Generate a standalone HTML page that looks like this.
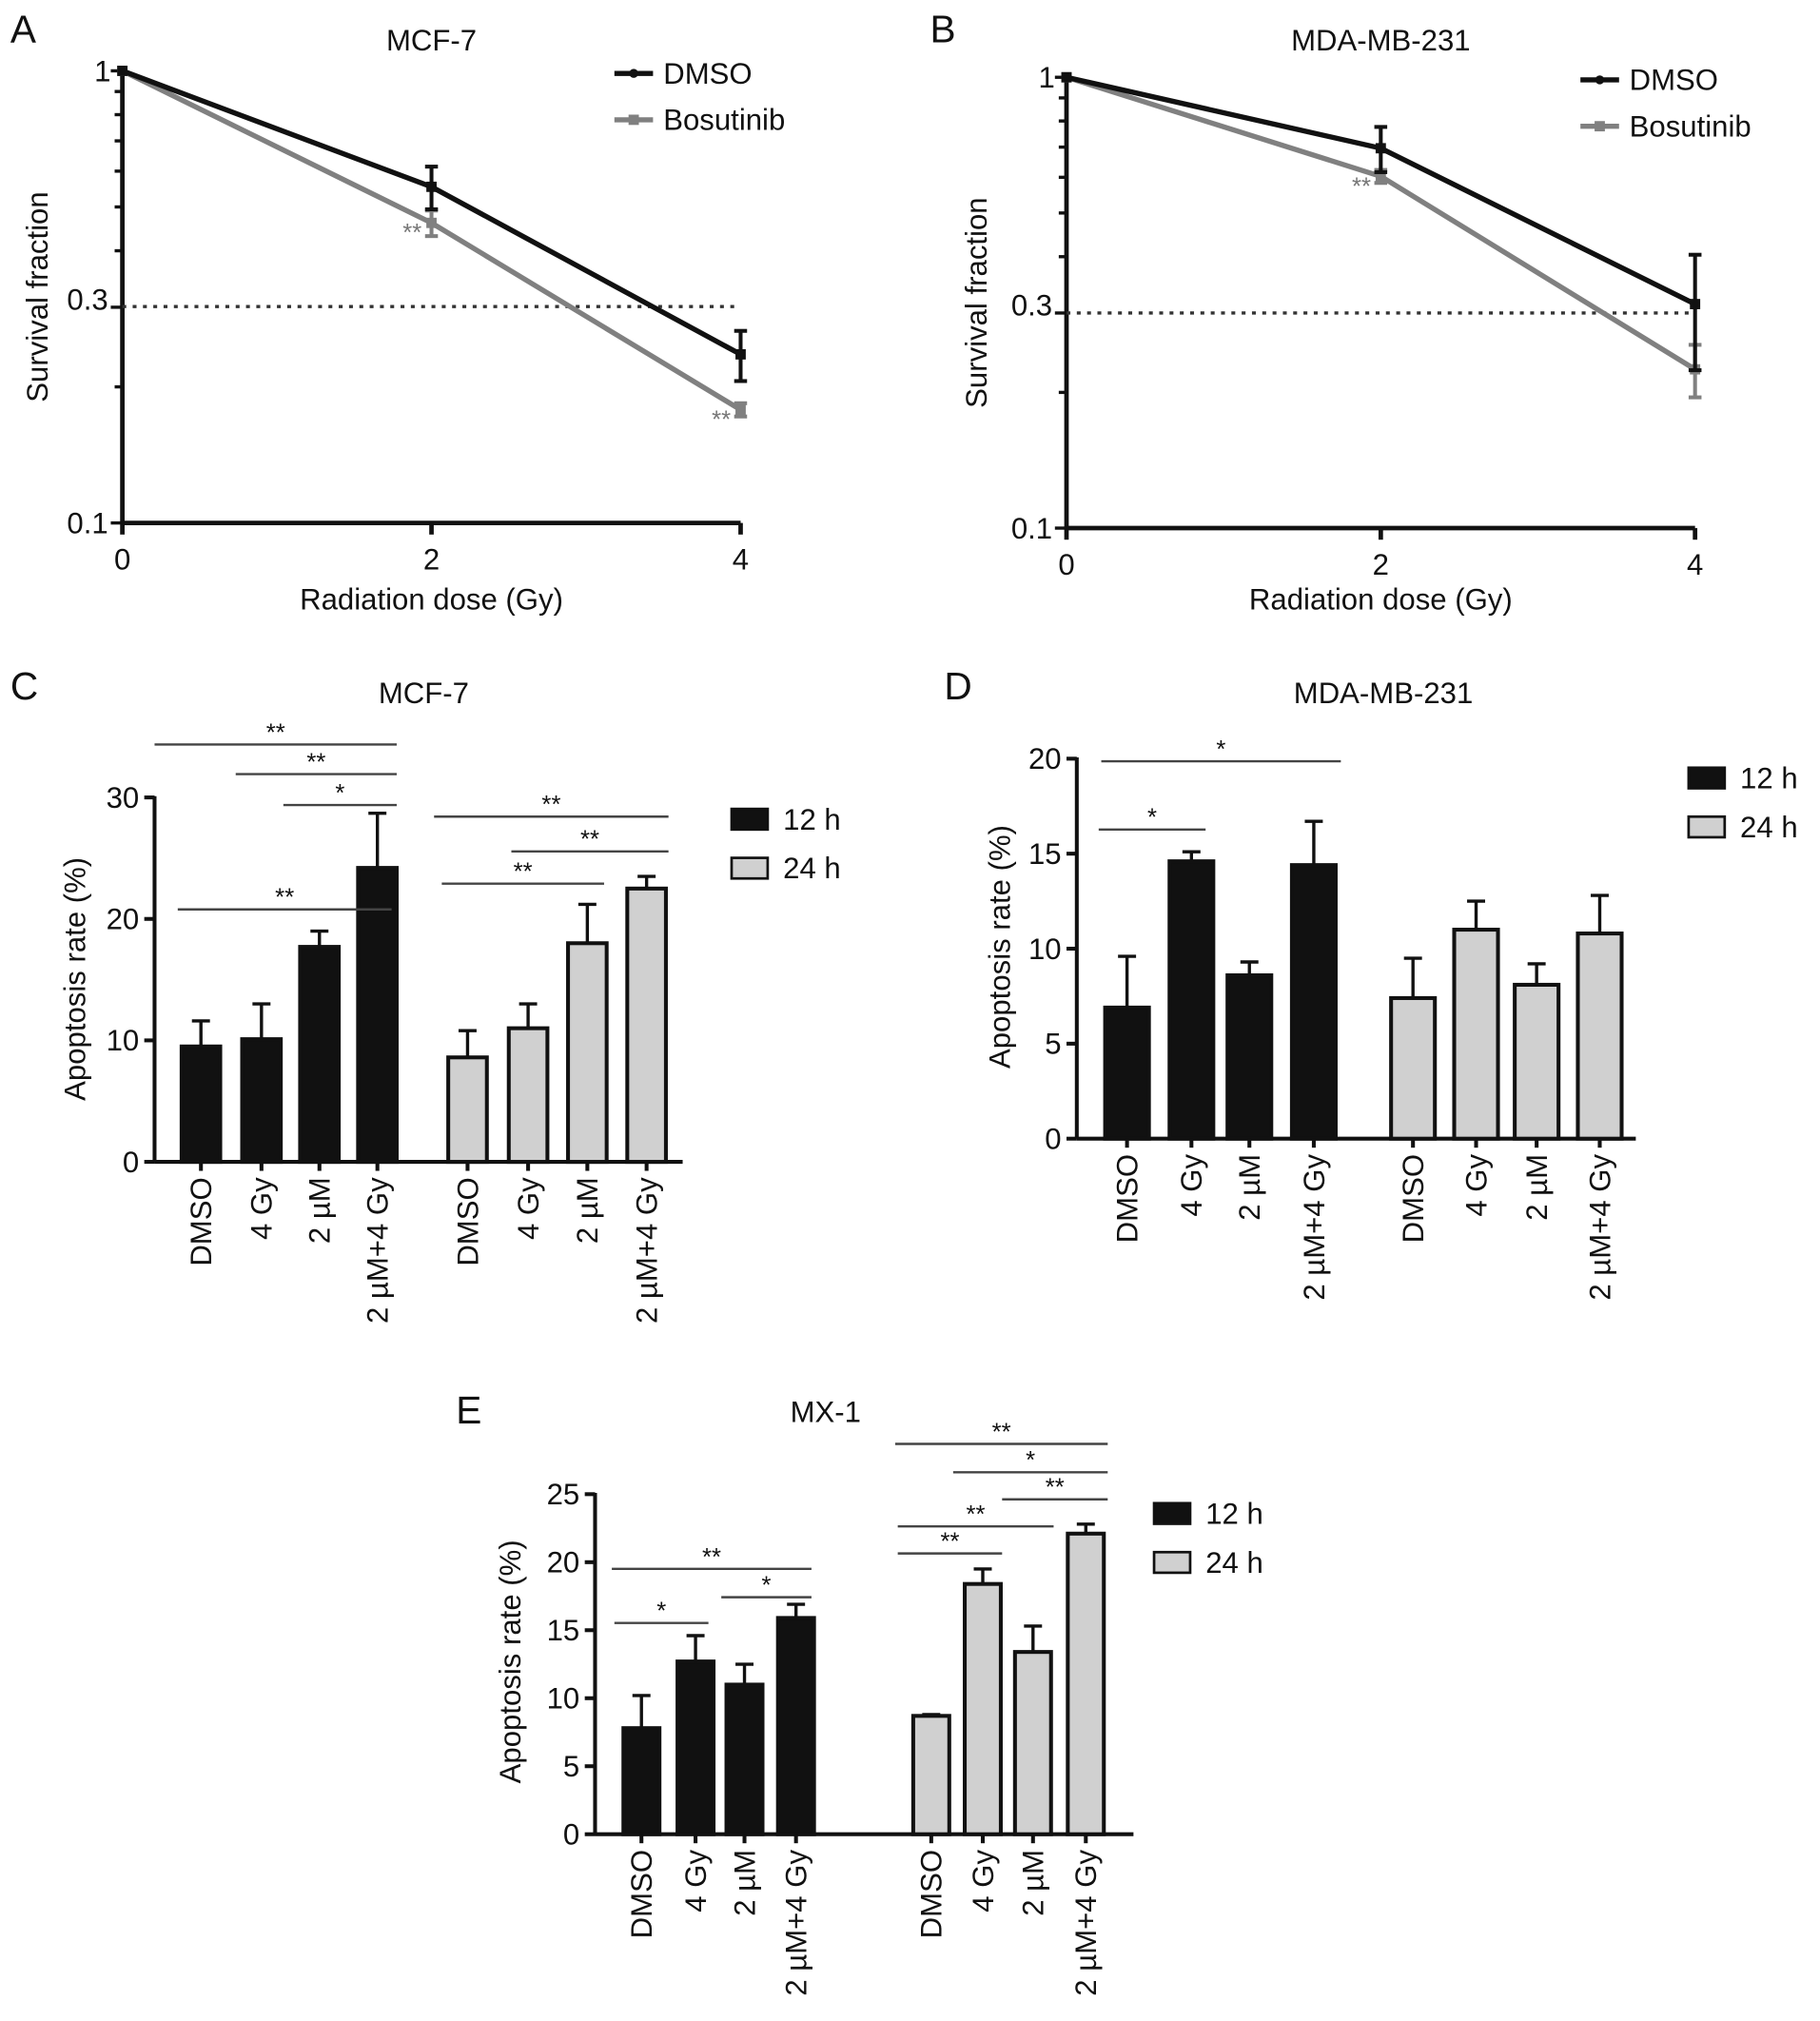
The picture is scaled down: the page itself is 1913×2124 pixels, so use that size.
<!DOCTYPE html>
<html><head><meta charset="utf-8"><style>
html,body{margin:0;padding:0;background:#fff;}
svg{display:block;font-family:"Liberation Sans",sans-serif;}
</style></head><body>
<svg id="fig" width="1913" height="2124" viewBox="0 0 1413 1569" preserveAspectRatio="none"></svg>
<script>
// ---- Data ----
const doses = [0, 2, 4];
const aDmso = [1, 0.554, 0.236];
const aDmsoErr = [0, 0.06, 0.03];
const aBos = [1, 0.461, 0.178];
const aBosErr = [0, 0.03, 0.006];
const bDmso = [1, 0.696, 0.314];
const bDmsoErr = [0, 0.08, 0.09];
const bBos = [1, 0.603, 0.225];
const bBosErr = [0, 0.02, 0.03];
const groups = ["DMSO", "4 Gy", "2 µM", "2 µM+4 Gy"];
const c12 = [9.5, 10.1, 17.7, 24.2];
const c12Err = [2.1, 2.9, 1.3, 4.5];
const c24 = [8.6, 11.0, 18.0, 22.5];
const c24Err = [2.2, 2.0, 3.2, 1.0];
const d12 = [6.9, 14.6, 8.6, 14.4];
const d12Err = [2.7, 0.5, 0.7, 2.3];
const d24 = [7.4, 11.0, 8.1, 10.8];
const d24Err = [2.1, 1.5, 1.1, 2.0];
const e12 = [7.8, 12.7, 11.0, 15.9];
const e12Err = [2.4, 1.9, 1.5, 1.0];
const e24 = [8.7, 18.4, 13.4, 22.1];
const e24Err = [0.1, 1.1, 1.9, 0.7];
const cTicks = [0, 10, 20, 30];
const dTicks = [0, 5, 10, 15, 20];
const eTicks = [0, 5, 10, 15, 20, 25];

const NS = "http://www.w3.org/2000/svg";
const svg = document.getElementById("fig");
function el(tag, attrs, parent, text) {
  const e = document.createElementNS(NS, tag);
  for (const k in attrs) e.setAttribute(k, attrs[k]);
  if (text !== undefined) e.textContent = text;
  (parent || svg).appendChild(e);
  return e;
}
function txt(x, y, s, size, anchor, name, extra) {
  const t = el("text", Object.assign({x: x, y: y, "font-size": size, "text-anchor": anchor || "middle", fill: "#111"}, extra || {}), svg, s);
  
  
  return t;
}
const FS = 23;

// ---- Survival panels ----
function survival(cfg) {
  const g = el("g", {});
  
  
  const xS = d => cfg.x0 + (cfg.x4 - cfg.x0) * d / 4;
  const yS = v => cfg.yTop + (cfg.yBot - cfg.yTop) * (-Math.log10(v));
  el("line", {x1: cfg.x0, y1: cfg.yTop - 2, x2: cfg.x0, y2: cfg.yBot, stroke: "#111", "stroke-width": 3.5}, g);
  el("line", {x1: cfg.x0, y1: cfg.yBot, x2: cfg.x4, y2: cfg.yBot, stroke: "#111", "stroke-width": 3.5}, g);
  doses.forEach(d => {
    el("line", {x1: xS(d), y1: cfg.yBot, x2: xS(d), y2: cfg.yBot + 9, stroke: "#111", "stroke-width": 3.5}, g);
    txt(xS(d), cfg.yBot + 36, String(d), FS, "middle", "x-tick-label");
  });
  for (let m = 1; m <= 10; m++) {
    const v = 0.1 * m;
    const major = (m === 1 || m === 10 || m === 3);
    el("line", {x1: cfg.x0 - (major ? 9 : 6), y1: yS(v), x2: cfg.x0, y2: yS(v), stroke: "#111", "stroke-width": 2.5}, g);
  }
  txt(cfg.x0 - 9, yS(1) + 8, "1", FS, "end", "y-tick-label");
  txt(cfg.x0 - 11, yS(0.3) + 2, "0.3", FS, "end", "y-tick-label");
  txt(cfg.x0 - 11, yS(0.1) + 8, "0.1", FS, "end", "y-tick-label");
  const dl = el("line", {x1: cfg.x0, y1: cfg.dotY, x2: cfg.x4, y2: cfg.dotY, stroke: "#333", "stroke-width": 2.5, "stroke-dasharray": "3,5"}, g);
  
  
  function series(vals, errs, color, nm, sigs) {
    const pts = doses.map((d, i) => xS(d) + "," + yS(vals[i])).join(" ");
    const p = el("polyline", {points: pts, fill: "none", stroke: color, "stroke-width": 4}, g);
    
    
    doses.forEach((d, i) => {
      if (errs[i] > 0) {
        const x = xS(d), y1 = yS(vals[i] + errs[i]), y2 = yS(vals[i] - errs[i]);
        el("line", {x1: x, y1: y1, x2: x, y2: y2, stroke: color, "stroke-width": 3}, g);
        el("line", {x1: x - 5, y1: y1, x2: x + 5, y2: y1, stroke: color, "stroke-width": 3}, g);
        el("line", {x1: x - 5, y1: y2, x2: x + 5, y2: y2, stroke: color, "stroke-width": 3}, g);
      }
      const m = el("rect", {x: xS(d) - 4, y: yS(vals[i]) - 4, width: 8, height: 8, fill: color}, g);
      
      
      if (sigs && sigs[i]) txt(xS(d) - 15, yS(vals[i]) + 14, "**", 19, "middle", "significance-marker", {fill: "#777"});
    });
  }
  series(cfg.bos, cfg.bosErr, "#808080", "bosutinib", [0, 1, cfg.sig4]);
  series(cfg.dmso, cfg.dmsoErr, "#111", "dmso");
  el("line", {x1: cfg.lx, y1: cfg.ly, x2: cfg.lx + 30, y2: cfg.ly, stroke: "#111", "stroke-width": 4}, g);
  el("circle", {cx: cfg.lx + 15, cy: cfg.ly, r: 3.5, fill: "#111"}, g);
  txt(cfg.lx + 38, cfg.ly + 8, "DMSO", FS, "start", "legend-dmso");
  el("line", {x1: cfg.lx, y1: cfg.ly + 36, x2: cfg.lx + 30, y2: cfg.ly + 36, stroke: "#808080", "stroke-width": 4}, g);
  el("rect", {x: cfg.lx + 11, y: cfg.ly + 32, width: 8, height: 8, fill: "#808080"}, g);
  txt(cfg.lx + 38, cfg.ly + 44, "Bosutinib", FS, "start", "legend-bosutinib");
  txt((cfg.x0 + cfg.x4) / 2, 39, cfg.title, FS, "middle", "chart-title");
  txt(cfg.letX, 33, cfg.letter, 30, "start", "panel-label");
  txt((cfg.x0 + cfg.x4) / 2, 473, "Radiation dose (Gy)", FS, "middle", "x-axis-title");
  txt(cfg.yl, (cfg.yTop + cfg.yBot) / 2, "Survival fraction", FS, "middle", "y-axis-title", {transform: "rotate(-90 " + cfg.yl + " " + (cfg.yTop + cfg.yBot) / 2 + ")"});
}
survival({name: "panel-a-chart", x0: 95, x4: 575, yTop: 55, yBot: 406, dmso: aDmso, dmsoErr: aDmsoErr, bos: aBos, bosErr: aBosErr, dotY: 238, lx: 477, ly: 57, title: "MCF-7", letter: "A", letX: 8, yl: 37, sig4: 1});
survival({name: "panel-b-chart", x0: 828, x4: 1316, yTop: 60, yBot: 410, dmso: bDmso, dmsoErr: bDmsoErr, bos: bBos, bosErr: bBosErr, dotY: 243, lx: 1227, ly: 62, title: "MDA-MB-231", letter: "B", letX: 722, yl: 766, sig4: 0});

// ---- Bar panels ----
function bars(cfg) {
  const g = el("g", {});
  
  
  const yS = v => cfg.y0 - v * cfg.ppu;
  el("line", {x1: cfg.x0, y1: yS(cfg.ticks[cfg.ticks.length - 1]) - 1, x2: cfg.x0, y2: cfg.y0, stroke: "#111", "stroke-width": 3}, g);
  el("line", {x1: cfg.x0, y1: cfg.y0, x2: cfg.xEnd, y2: cfg.y0, stroke: "#111", "stroke-width": 3}, g);
  cfg.ticks.forEach(t => {
    el("line", {x1: cfg.x0 - 8, y1: yS(t), x2: cfg.x0, y2: yS(t), stroke: "#111", "stroke-width": 3}, g);
    txt(cfg.x0 - 12, yS(t) + 8, String(t), FS, "end", "y-tick-label");
  });
  function grp(vals, errs, centers, fill, nm) {
    vals.forEach((v, i) => {
      const cx = centers[i], w = cfg.bw;
      const top = yS(v + errs[i]);
      el("line", {x1: cx, y1: yS(v), x2: cx, y2: top, stroke: "#111", "stroke-width": 2.5}, g);
      el("line", {x1: cx - 7, y1: top, x2: cx + 7, y2: top, stroke: "#111", "stroke-width": 2.5}, g);
      const r = el("rect", {x: cx - w / 2, y: yS(v), width: w, height: cfg.y0 - yS(v), fill: fill, stroke: "#111", "stroke-width": 3}, g);
      
      
      el("line", {x1: cx, y1: cfg.y0, x2: cx, y2: cfg.y0 + 7, stroke: "#111", "stroke-width": 3}, g);
      const ly = cfg.y0 + 12;
      txt(cx + 8, ly, groups[i], FS, "end", "x-tick-label", {transform: "rotate(-90 " + (cx + 8) + " " + ly + ")"});
    });
  }
  grp(cfg.v12, cfg.e12, cfg.c12, "#111", "12h");
  grp(cfg.v24, cfg.e24, cfg.c24, "#d0d0d0", "24h");
  cfg.sigs.forEach(s => {
    const l = el("line", {x1: s[1], y1: s[0], x2: s[2], y2: s[0], stroke: "#444", "stroke-width": 1.8}, g);
    
    
    txt((s[1] + s[2]) / 2, s[0] - 3, s[3], 19, "middle", "significance-marker");
  });
  el("rect", {x: cfg.lx, y: cfg.ly - 8, width: 28, height: 16, fill: "#111", stroke: "#111", "stroke-width": 2}, g);
  txt(cfg.lx + 40, cfg.ly + 8, "12 h", FS, "start", "legend-12h");
  el("rect", {x: cfg.lx, y: cfg.ly + 30, width: 28, height: 16, fill: "#d0d0d0", stroke: "#111", "stroke-width": 2}, g);
  txt(cfg.lx + 40, cfg.ly + 46, "24 h", FS, "start", "legend-24h");
  txt(cfg.tx, cfg.ty, cfg.title, FS, "middle", "chart-title");
  txt(cfg.letX, cfg.letY, cfg.letter, 30, "start", "panel-label");
  txt(cfg.yl, cfg.ylc, "Apoptosis rate (%)", FS, "middle", "y-axis-title", {transform: "rotate(-90 " + cfg.yl + " " + cfg.ylc + ")"});
}
bars({name: "panel-c-chart", x0: 120, xEnd: 530, y0: 902, ppu: 9.43, ticks: cTicks, bw: 30,
  c12: [156, 203, 248, 293], c24: [363, 410, 456, 502], v12: c12, e12: c12Err, v24: c24, e24: c24Err,
  sigs: [[578, 120, 308, "**"], [601, 183, 308, "**"], [625, 220, 308, "*"], [706, 138, 304, "**"], [634, 337, 519, "**"], [661, 397, 519, "**"], [686, 343, 469, "**"]],
  lx: 568, ly: 636, title: "MCF-7", tx: 329, ty: 546, letter: "C", letX: 8, letY: 543, yl: 66, ylc: 760});
bars({name: "panel-d-chart", x0: 836, xEnd: 1270, y0: 884, ppu: 14.75, ticks: dTicks, bw: 34,
  c12: [875, 925, 970, 1020], c24: [1097, 1146, 1193, 1242], v12: d12, e12: d12Err, v24: d24, e24: d24Err,
  sigs: [[591, 855, 1041, "*"], [644, 853, 936, "*"]],
  lx: 1311, ly: 604, title: "MDA-MB-231", tx: 1074, ty: 546, letter: "D", letX: 733, letY: 543, yl: 784, ylc: 735});
bars({name: "panel-e-chart", x0: 462, xEnd: 880, y0: 1424, ppu: 10.56, ticks: eTicks, bw: 28,
  c12: [498, 540, 578, 618], c24: [723, 763, 802, 843], v12: e12, e12: e12Err, v24: e24, e24: e24Err,
  sigs: [[1218, 475, 630, "**"], [1240, 560, 630, "*"], [1260, 477, 550, "*"], [1121, 695, 860, "**"], [1143, 740, 860, "*"], [1164, 778, 860, "**"], [1185, 697, 818, "**"], [1206, 697, 778, "**"]],
  lx: 896, ly: 1175, title: "MX-1", tx: 641, ty: 1104, letter: "E", letX: 354, letY: 1105, yl: 404, ylc: 1290});
</script>
</body></html>
